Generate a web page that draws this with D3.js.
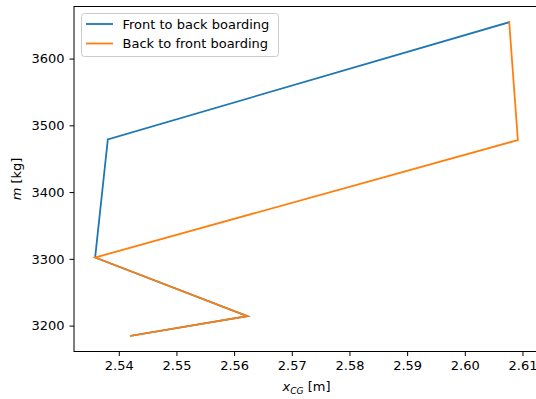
<!DOCTYPE html>
<html>
<head>
<meta charset="utf-8">
<script src="https://cdn.jsdelivr.net/npm/d3@7"></script>
<style>
  html, body { margin: 0; padding: 0; background: #fff; }
  svg text { font-family: "DejaVu Sans", sans-serif; }
</style>
</head>
<body>
<svg id="chart" width="536" height="399"></svg>
<script>
// Loading sequences: centre of gravity position vs. total mass
const frontToBackX = [2.5421, 2.5623, 2.5359, 2.5381, 2.6077];
const frontToBackM = [3184.7, 3214, 3302, 3479, 3654.5];
const backToFrontX = [2.5421, 2.5623, 2.5359, 2.6092, 2.6077];
const backToFrontM = [3184.7, 3214, 3302, 3478, 3654.5];

const seriesNames = ["Front to back boarding", "Back to front boarding"];
const seriesColors = ["#1f77b4", "#ff7f0e"];

const xTicks = [2.54, 2.55, 2.56, 2.57, 2.58, 2.59, 2.60, 2.61];
const yTicks = [3200, 3300, 3400, 3500, 3600];

const svg = d3.select("#chart");
const plot = { left: 74, right: 539, top: 6.5, bottom: 351.5 };
const fontSize = 13;

// Axis limits with 5% padding around the data
const allX = frontToBackX.concat(backToFrontX);
const allM = frontToBackM.concat(backToFrontM);
const [x0, x1] = d3.extent(allX);
const [m0, m1] = d3.extent(allM);
const xPad = (x1 - x0) * 0.05, mPad = (m1 - m0) * 0.05;

const x = d3.scaleLinear().domain([x0 - xPad, x1 + xPad]).range([plot.left, plot.right]);
const y = d3.scaleLinear().domain([m0 - mPad, m1 + mPad]).range([plot.bottom, plot.top]);

// Data lines
const line = d3.line().x(d => x(d[0])).y(d => y(d[1]));
const series = [
  d3.zip(frontToBackX, frontToBackM),
  d3.zip(backToFrontX, backToFrontM)
];
series.forEach((pts, i) => {
  svg.append("path")
    .attr("d", line(pts))
    .attr("fill", "none")
    .attr("stroke", seriesColors[i])
    .attr("stroke-width", 1.8)
    .attr("stroke-linejoin", "miter")
    .attr("stroke-linecap", "square");
});

// Axes
const xAxis = d3.axisBottom(x).tickValues(xTicks).tickFormat(d3.format(".2f"))
  .tickSize(4.5).tickPadding(5);
const yAxis = d3.axisLeft(y).tickValues(yTicks).tickFormat(d3.format("d"))
  .tickSize(4.5).tickPadding(5);

const gx = svg.append("g").attr("transform", `translate(0,${plot.bottom})`).call(xAxis);
const gy = svg.append("g").attr("transform", `translate(${plot.left},0)`).call(yAxis);
[gx, gy].forEach(g => {
  g.select(".domain").remove();
  g.selectAll(".tick line").attr("stroke", "#000").attr("stroke-width", 1);
  g.selectAll(".tick text").attr("fill", "#000").attr("font-size", fontSize)
    .attr("font-family", "DejaVu Sans, sans-serif");
});

// Spines
svg.append("rect")
  .attr("x", plot.left).attr("y", plot.top)
  .attr("width", plot.right - plot.left).attr("height", plot.bottom - plot.top)
  .attr("fill", "none").attr("stroke", "#000").attr("stroke-width", 1);

// Axis labels
const xl = svg.append("text")
  .attr("x", (plot.left + plot.right) / 2).attr("y", 391)
  .attr("text-anchor", "middle").attr("font-size", fontSize);
xl.append("tspan").attr("font-style", "italic").text("x");
xl.append("tspan").attr("font-style", "italic").attr("font-size", fontSize * 0.7).attr("dy", 2.5).text("CG");
xl.append("tspan").attr("dy", -2.5).text(" [m]");

const yl = svg.append("text")
  .attr("transform", `translate(21,${(plot.top + plot.bottom) / 2}) rotate(-90)`)
  .attr("text-anchor", "middle").attr("font-size", fontSize);
yl.append("tspan").attr("font-style", "italic").text("m");
yl.append("tspan").text(" [kg]");

// Legend
const legend = svg.append("g").attr("transform", "translate(81.5,13.5)");
legend.append("rect")
  .attr("width", 197).attr("height", 43).attr("rx", 3)
  .attr("fill", "#fff").attr("fill-opacity", 0.8)
  .attr("stroke", "#ccc").attr("stroke-width", 1);
seriesNames.forEach((name, i) => {
  const yy = 10.5 + i * 19.5;
  legend.append("line")
    .attr("x1", 4.5).attr("x2", 31.5).attr("y1", yy).attr("y2", yy)
    .attr("stroke", seriesColors[i]).attr("stroke-width", 1.8);
  legend.append("text")
    .attr("x", 41).attr("y", yy + 4.6)
    .attr("font-size", fontSize).attr("fill", "#000")
    .text(name);
});
</script>
</body>
</html>
